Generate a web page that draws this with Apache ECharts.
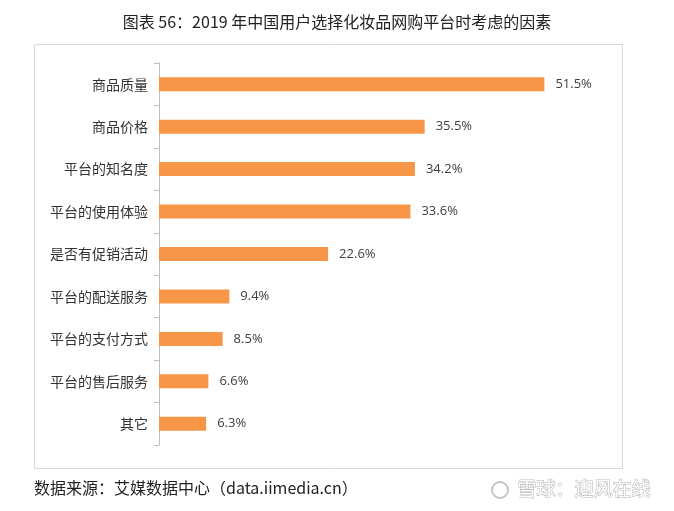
<!DOCTYPE html>
<html><head><meta charset="utf-8">
<script src="https://cdn.jsdelivr.net/npm/echarts@6/dist/echarts.min.js"></script>
<style>html,body{margin:0;padding:0;background:#fff}#c{width:674px;height:511px}</style>
</head><body><div id="c"></div>
<script>
const categories = ['商品质量','商品价格','平台的知名度','平台的使用体验','是否有促销活动','平台的配送服务','平台的支付方式','平台的售后服务','其它'];
const values = [51.5, 35.5, 34.2, 33.6, 22.6, 9.4, 8.5, 6.6, 6.3];
const titleText = '图表 56：2019 年中国用户选择化妆品网购平台时考虑的因素';
const sourceText = '数据来源：艾媒数据中心（data.iimedia.cn）';
const watermarkText = '雪球：迎风在线';

const chart = echarts.init(document.getElementById('c'), null, {renderer:'canvas'});
const CJK = '"Noto Sans CJK SC","Noto Sans",sans-serif';
chart.setOption({
  animation: false,
  backgroundColor: '#fff',
  title: {
    text: titleText, left: 'center', top: 9,
    textStyle: {fontFamily: CJK, fontSize: 16, fontWeight: 'normal', color: '#222'}
  },
  graphic: [
    {type:'rect', shape:{x:34.5, y:44.5, width:588, height:424}, style:{fill:'none', stroke:'#d9d9d9', lineWidth:1}, z:-1},
    {type:'text', left:34, top:480, style:{text: sourceText, font:'16px "Noto Sans CJK SC",sans-serif', fill:'#222'}},
    {type:'circle', shape:{cx:500, cy:490, r:8}, style:{fill:'none', stroke:'#c4c4c4', lineWidth:2}},
    {type:'text', left:517, top:479, style:{text: watermarkText, font:'19px "Noto Sans CJK SC",sans-serif', fill:'#fff', stroke:'#bdbdbd', lineWidth:1.2}}
  ],
  grid: {left:159, top:63, width:449, bottom:66, containLabel:false},
  xAxis: {type:'value', min:0, max:60, show:false},
  yAxis: {
    type:'category', data: categories, inverse:true,
    axisLine:{show:true, lineStyle:{color:'#bfbfbf', width:1}},
    axisTick:{show:true, length:5, lineStyle:{color:'#bfbfbf'}},
    axisLabel:{fontFamily: CJK, fontSize:14, color:'#333', margin:11}
  },
  series: [{
    type:'bar', data: values, barWidth:14,
    itemStyle:{color:'#F79646'},
    label:{show:true, position:'right', distance:11, formatter: p => p.value.toFixed(1) + '%',
      fontFamily:'"Open Sans","Liberation Sans",sans-serif', fontSize:13, color:'#404040'}
  }]
});
</script></body></html>
